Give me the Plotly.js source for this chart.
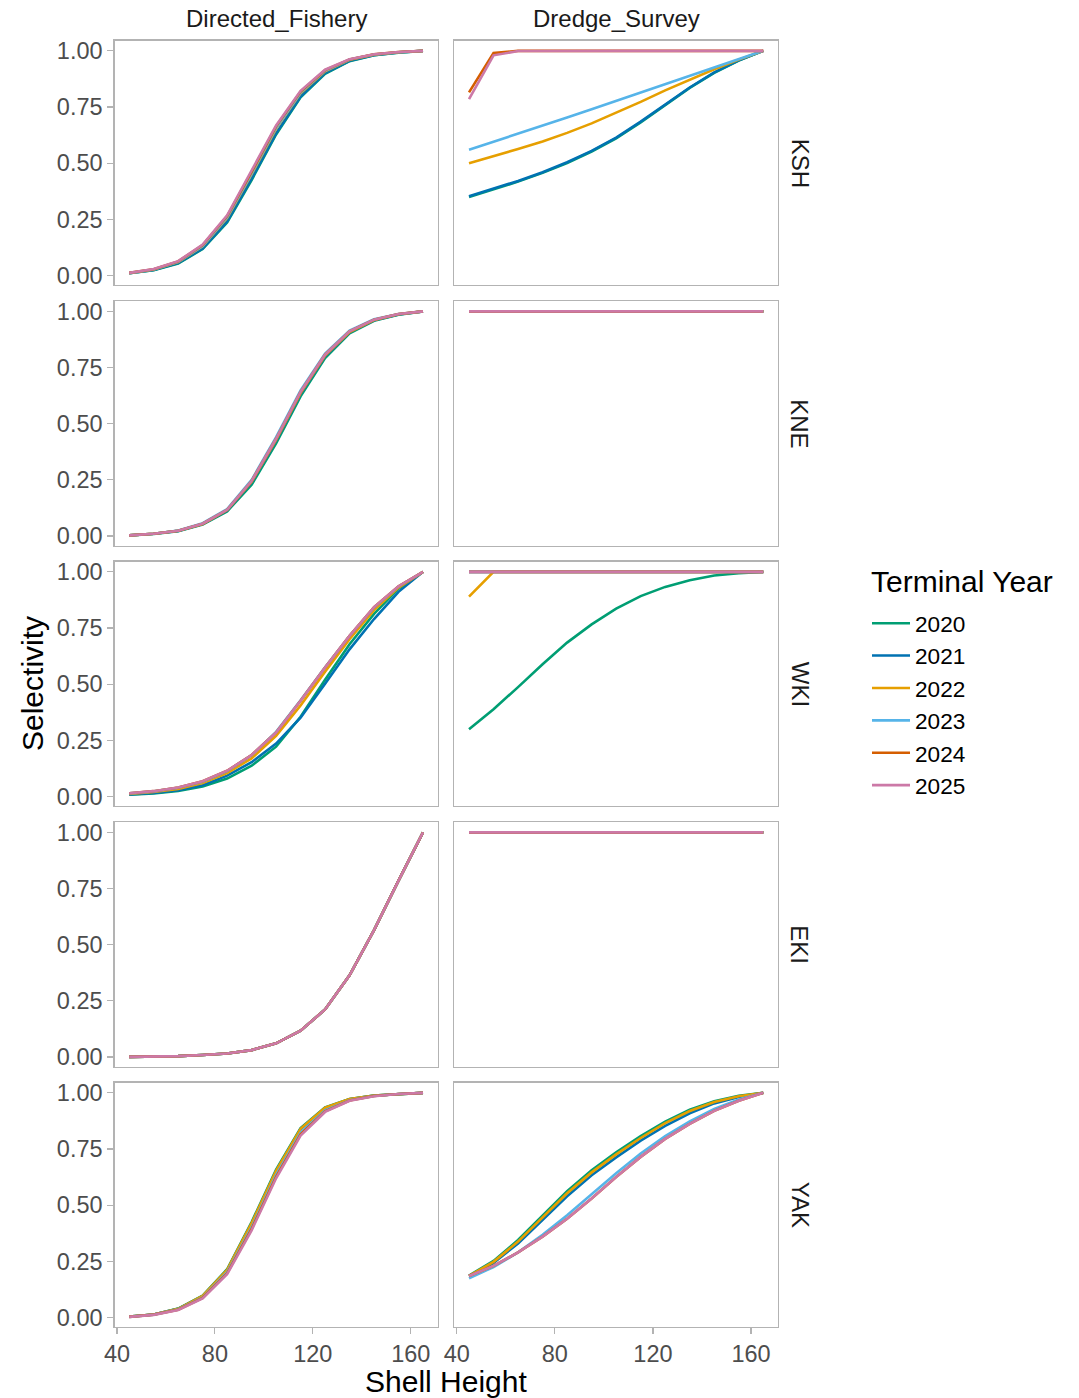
<!DOCTYPE html>
<html>
<head>
<meta charset="utf-8">
<script src="https://cdn.plot.ly/plotly-3.0.1.min.js"></script>
<style>html,body{margin:0;padding:0;background:#fff;}#chart{width:1079px;height:1398px;}</style>
</head>
<body>
<div id="chart"></div>
<script>
// ---- data ----
const shellHeight = [45,55,65,75,85,95,105,115,125,135,145,155,165];
const years = ['2020','2021','2022','2023','2024','2025'];
const yearColors = ['#009E73','#0072B2','#E69F00','#56B4E9','#D55E00','#CC79A7'];
const fleets = ['Directed_Fishery','Dredge_Survey'];
const regions = ['KSH','KNE','WKI','EKI','YAK'];

// rows: 2020..2025
const DF_KSH = [
  [0.010,0.024,0.054,0.118,0.236,0.425,0.628,0.793,0.898,0.954,0.980,0.992,1.0],
  [0.010,0.025,0.056,0.121,0.241,0.431,0.633,0.797,0.901,0.956,0.981,0.993,1.0],
  [0.011,0.027,0.060,0.130,0.256,0.450,0.653,0.811,0.909,0.960,0.983,0.994,1.0],
  [0.011,0.027,0.061,0.132,0.259,0.454,0.657,0.814,0.911,0.961,0.984,0.994,1.0],
  [0.012,0.028,0.063,0.136,0.265,0.461,0.664,0.819,0.914,0.962,0.985,0.995,1.0],
  [0.012,0.029,0.064,0.138,0.268,0.465,0.668,0.822,0.916,0.963,0.985,0.995,1.0]
];
const DS_KSH = [
  [0.350,0.383,0.418,0.457,0.501,0.552,0.611,0.682,0.759,0.835,0.902,0.957,1.0],
  [0.353,0.386,0.421,0.460,0.504,0.555,0.614,0.685,0.762,0.837,0.904,0.958,1.0],
  [0.500,0.531,0.563,0.597,0.635,0.677,0.724,0.773,0.824,0.872,0.918,0.961,1.0],
  [0.560,0.595,0.631,0.667,0.703,0.740,0.777,0.814,0.851,0.888,0.925,0.962,1.0],
  [0.815,0.990,1.0,1.0,1.0,1.0,1.0,1.0,1.0,1.0,1.0,1.0,1.0],
  [0.785,0.980,0.999,1.0,1.0,1.0,1.0,1.0,1.0,1.0,1.0,1.0,1.0]
];
const DF_KNE = [
  [0.003,0.009,0.022,0.051,0.110,0.228,0.412,0.622,0.792,0.902,0.958,0.985,1.0],
  [0.003,0.010,0.023,0.053,0.114,0.238,0.424,0.632,0.800,0.906,0.960,0.986,1.0],
  [0.003,0.010,0.024,0.054,0.116,0.242,0.428,0.636,0.803,0.908,0.961,0.987,1.0],
  [0.003,0.010,0.025,0.057,0.120,0.250,0.440,0.648,0.812,0.914,0.965,0.988,1.0],
  [0.003,0.010,0.024,0.055,0.117,0.245,0.433,0.641,0.807,0.911,0.963,0.988,1.0],
  [0.003,0.010,0.024,0.055,0.117,0.245,0.433,0.641,0.807,0.911,0.963,0.988,1.0]
];
const DS_KNE = [
  [1,1,1,1,1,1,1,1,1,1,1,1,1],
  [1,1,1,1,1,1,1,1,1,1,1,1,1],
  [1,1,1,1,1,1,1,1,1,1,1,1,1],
  [1,1,1,1,1,1,1,1,1,1,1,1,1],
  [1,1,1,1,1,1,1,1,1,1,1,1,1],
  [1,1,1,1,1,1,1,1,1,1,1,1,1]
];
const DF_WKI = [
  [0.008,0.014,0.025,0.045,0.080,0.137,0.222,0.355,0.520,0.678,0.813,0.925,1.0],
  [0.009,0.016,0.028,0.050,0.093,0.153,0.236,0.351,0.502,0.655,0.790,0.911,1.0],
  [0.012,0.020,0.034,0.060,0.105,0.170,0.270,0.405,0.555,0.700,0.830,0.930,1.0],
  [0.014,0.023,0.039,0.066,0.113,0.184,0.288,0.428,0.575,0.715,0.841,0.935,1.0],
  [0.015,0.024,0.040,0.068,0.115,0.185,0.285,0.426,0.574,0.715,0.843,0.936,1.0],
  [0.015,0.024,0.040,0.068,0.115,0.185,0.285,0.426,0.574,0.715,0.843,0.936,1.0]
];
const DS_WKI = [
  [0.300,0.389,0.487,0.589,0.685,0.766,0.836,0.892,0.933,0.963,0.984,0.994,1.0],
  [1,1,1,1,1,1,1,1,1,1,1,1,1],
  [0.890,1,1,1,1,1,1,1,1,1,1,1,1],
  [1,1,1,1,1,1,1,1,1,1,1,1,1],
  [1,1,1,1,1,1,1,1,1,1,1,1,1],
  [1,1,1,1,1,1,1,1,1,1,1,1,1]
];
const DF_EKI = [
  [0.001,0.002,0.004,0.009,0.016,0.031,0.061,0.117,0.212,0.364,0.565,0.785,1.0],
  [0.001,0.002,0.004,0.009,0.016,0.031,0.061,0.117,0.212,0.364,0.565,0.785,1.0],
  [0.001,0.002,0.004,0.009,0.016,0.031,0.061,0.117,0.212,0.364,0.565,0.785,1.0],
  [0.001,0.002,0.004,0.009,0.016,0.031,0.061,0.117,0.212,0.364,0.565,0.785,1.0],
  [0.001,0.002,0.004,0.009,0.016,0.031,0.061,0.117,0.212,0.364,0.565,0.785,1.0],
  [0.001,0.002,0.004,0.009,0.016,0.031,0.061,0.117,0.212,0.364,0.565,0.785,1.0]
];
const DS_EKI = [
  [1,1,1,1,1,1,1,1,1,1,1,1,1],
  [1,1,1,1,1,1,1,1,1,1,1,1,1],
  [1,1,1,1,1,1,1,1,1,1,1,1,1],
  [1,1,1,1,1,1,1,1,1,1,1,1,1],
  [1,1,1,1,1,1,1,1,1,1,1,1,1],
  [1,1,1,1,1,1,1,1,1,1,1,1,1]
];
const DF_YAK = [
  [0.004,0.014,0.040,0.098,0.215,0.425,0.658,0.843,0.935,0.972,0.988,0.995,1.0],
  [0.004,0.014,0.039,0.095,0.210,0.418,0.650,0.838,0.932,0.971,0.988,0.995,1.0],
  [0.004,0.014,0.039,0.096,0.212,0.420,0.653,0.840,0.934,0.972,0.988,0.995,1.0],
  [0.003,0.013,0.036,0.090,0.202,0.402,0.635,0.823,0.922,0.967,0.986,0.995,1.0],
  [0.003,0.013,0.035,0.087,0.197,0.395,0.626,0.815,0.918,0.966,0.986,0.995,1.0],
  [0.003,0.012,0.034,0.085,0.193,0.388,0.620,0.810,0.915,0.965,0.985,0.995,1.0]
];
const DS_YAK = [
  [0.187,0.252,0.345,0.455,0.562,0.655,0.735,0.807,0.872,0.925,0.963,0.987,1.0],
  [0.185,0.243,0.330,0.435,0.540,0.633,0.713,0.787,0.853,0.909,0.953,0.982,1.0],
  [0.185,0.248,0.338,0.447,0.553,0.646,0.726,0.799,0.865,0.919,0.959,0.985,1.0],
  [0.175,0.225,0.290,0.368,0.455,0.548,0.642,0.730,0.808,0.873,0.928,0.970,1.0],
  [0.185,0.230,0.290,0.360,0.440,0.530,0.625,0.715,0.795,0.862,0.920,0.965,1.0],
  [0.185,0.230,0.290,0.360,0.440,0.530,0.625,0.715,0.795,0.862,0.920,0.965,1.0]
];

const xTicks = [40,80,120,160];
const yTicks = [0,0.25,0.5,0.75,1];
const legendTitle = 'Terminal Year';

const panels = [
  [DF_KSH, DS_KSH],
  [DF_KNE, DS_KNE],
  [DF_WKI, DS_WKI],
  [DF_EKI, DS_EKI],
  [DF_YAK, DS_YAK]
];

// ---- layout geometry (pixels) ----
const W = 1079, H = 1398;
const colPx = [[114.5, 437.7], [454.3, 778]];
const rowPx = [[40.5, 285], [301, 545.5], [561.5, 806], [822, 1066.5], [1082.5, 1327]];
const FONT = 'Liberation Sans, Arial, sans-serif';

const traces = [];
const layout = {
  width: W, height: H,
  margin: {l: 0, r: 0, t: 0, b: 0},
  paper_bgcolor: '#ffffff',
  plot_bgcolor: '#ffffff',
  font: {family: FONT, color: '#000000'},
  showlegend: true,
  legend: {
    x: 867 / W, xanchor: 'left',
    y: 1 - 602 / H, yanchor: 'top',
    font: {size: 22.6, color: '#000000', family: FONT},
    bgcolor: 'rgba(0,0,0,0)',
    borderwidth: 0,
    itemwidth: 38,
    tracegroupgap: 0
  },
  annotations: []
};

let n = 0;
for (let r = 0; r < regions.length; r++) {
  for (let c = 0; c < fleets.length; c++) {
    n++;
    const xa = 'xaxis' + (n === 1 ? '' : n);
    const ya = 'yaxis' + (n === 1 ? '' : n);
    const xr = 'x' + (n === 1 ? '' : n);
    const yr = 'y' + (n === 1 ? '' : n);
    layout[xa] = {
      domain: [colPx[c][0] / W, colPx[c][1] / W],
      range: [39, 171],
      anchor: yr,
      showgrid: false, zeroline: false,
      showline: true, mirror: true, linecolor: '#b3b3b3', linewidth: 1.2,
      ticks: r === regions.length - 1 ? 'outside' : '',
      ticklen: 6, tickwidth: 1.2, tickcolor: '#b3b3b3',
      tickvals: xTicks,
      showticklabels: r === regions.length - 1,
      tickfont: {size: 23.5, color: '#4d4d4d', family: FONT},
      fixedrange: true
    };
    layout[ya] = {
      domain: [1 - rowPx[r][1] / H, 1 - rowPx[r][0] / H],
      range: [-0.042, 1.046],
      anchor: xr,
      showgrid: false, zeroline: false,
      showline: true, mirror: true, linecolor: '#b3b3b3', linewidth: 1.2,
      ticks: c === 0 ? 'outside' : '',
      ticklen: 6, tickwidth: 1.2, tickcolor: '#b3b3b3',
      tickvals: yTicks, tickformat: '.2f',
      showticklabels: c === 0,
      tickfont: {size: 23.5, color: '#4d4d4d', family: FONT},
      fixedrange: true
    };
    const data = panels[r][c];
    for (let k = 0; k < years.length; k++) {
      traces.push({
        type: 'scatter', mode: 'lines',
        x: shellHeight, y: data[k],
        xaxis: xr, yaxis: yr,
        name: years[k], legendgroup: years[k],
        showlegend: n === 1,
        line: {color: yearColors[k], width: 2.6},
        hoverinfo: 'x+y+name'
      });
    }
  }
}

// facet strips
for (let c = 0; c < fleets.length; c++) {
  layout.annotations.push({
    xref: 'paper', yref: 'paper',
    x: (colPx[c][0] + colPx[c][1]) / 2 / W, y: 1 - 18 / H,
    xanchor: 'center', yanchor: 'middle',
    text: fleets[c], showarrow: false,
    font: {size: 24, color: '#1a1a1a', family: FONT}
  });
}
for (let r = 0; r < regions.length; r++) {
  layout.annotations.push({
    xref: 'paper', yref: 'paper',
    x: 800 / W, y: 1 - (rowPx[r][0] + rowPx[r][1]) / 2 / H,
    xanchor: 'center', yanchor: 'middle',
    text: regions[r], showarrow: false, textangle: 90,
    font: {size: 24, color: '#1a1a1a', family: FONT}
  });
}
// axis titles
layout.annotations.push({
  xref: 'paper', yref: 'paper',
  x: 32 / W, y: 1 - 684 / H,
  xanchor: 'center', yanchor: 'middle',
  text: 'Selectivity', showarrow: false, textangle: -90,
  font: {size: 30, color: '#000000', family: FONT}
});
layout.annotations.push({
  xref: 'paper', yref: 'paper',
  x: 446 / W, y: 1 - 1381 / H,
  xanchor: 'center', yanchor: 'middle',
  text: 'Shell Height', showarrow: false,
  font: {size: 30, color: '#000000', family: FONT}
});
// legend title
layout.annotations.push({
  xref: 'paper', yref: 'paper',
  x: 869 / W, y: 1 - 581 / H,
  xanchor: 'left', yanchor: 'middle',
  text: legendTitle, showarrow: false,
  font: {size: 30, color: '#000000', family: FONT}
});

Plotly.newPlot('chart', traces, layout, {displayModeBar: false, staticPlot: true});
</script>
</body>
</html>
